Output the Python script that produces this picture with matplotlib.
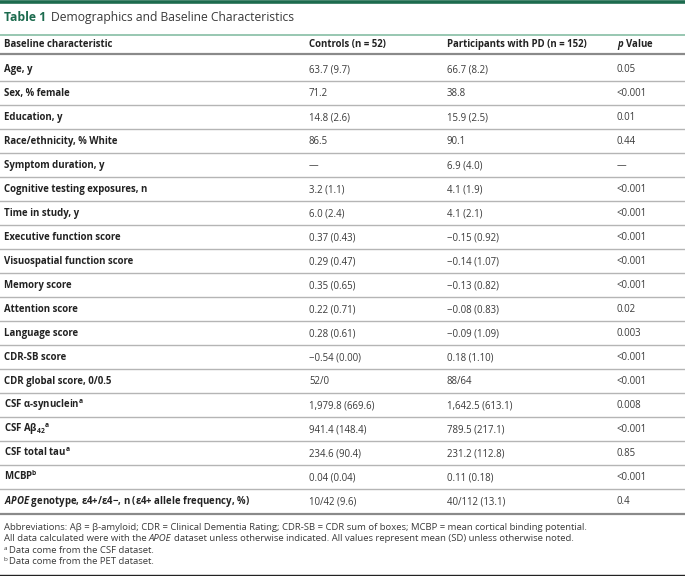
import matplotlib
matplotlib.use("Agg")
import matplotlib.pyplot as plt

plt.rcParams['font.family'] = ['Open Sans', 'DejaVu Sans']
plt.rcParams['mathtext.fontset'] = 'custom'
plt.rcParams['mathtext.default'] = 'regular'
plt.rcParams['mathtext.it'] = 'Open Sans:italic'
plt.rcParams['mathtext.bfit'] = 'Open Sans:italic:bold'

title_num = "Table 1"
title_text = "Demographics and Baseline Characteristics"
headers = ["Baseline characteristic", "Controls (n = 52)",
           "Participants with PD (n = 152)", r"$\mathbfit{p}$ Value"]

characteristics = [
    "Age, y",
    "Sex, % female",
    "Education, y",
    "Race/ethnicity, % White",
    "Symptom duration, y",
    "Cognitive testing exposures, n",
    "Time in study, y",
    "Executive function score",
    "Visuospatial function score",
    "Memory score",
    "Attention score",
    "Language score",
    "CDR-SB score",
    "CDR global score, 0/0.5",
    r"CSF α-synuclein$^{a}$",
    r"CSF Aβ$_{42}$$^{a}$",
    r"CSF total tau$^{a}$",
    r"MCBP$^{b}$",
    r"$\mathbfit{APOE}$ genotype, ε4+/ε4−, n (ε4+ allele frequency, %)",
]
controls = ["63.7 (9.7)", "71.2", "14.8 (2.6)", "86.5", "—", "3.2 (1.1)",
            "6.0 (2.4)", "0.37 (0.43)", "0.29 (0.47)", "0.35 (0.65)",
            "0.22 (0.71)", "0.28 (0.61)", "−0.54 (0.00)", "52/0",
            "1,979.8 (669.6)", "941.4 (148.4)", "234.6 (90.4)", "0.04 (0.04)",
            "10/42 (9.6)"]
parkinson = ["66.7 (8.2)", "38.8", "15.9 (2.5)", "90.1", "6.9 (4.0)",
             "4.1 (1.9)", "4.1 (2.1)", "−0.15 (0.92)", "−0.14 (1.07)",
             "−0.13 (0.82)", "−0.08 (0.83)", "−0.09 (1.09)", "0.18 (1.10)",
             "88/64", "1,642.5 (613.1)", "789.5 (217.1)", "231.2 (112.8)",
             "0.11 (0.18)", "40/112 (13.1)"]
p_values = ["0.05", "<0.001", "0.01", "0.44", "—", "<0.001", "<0.001",
            "<0.001", "<0.001", "<0.001", "0.02", "0.003", "<0.001",
            "<0.001", "0.008", "<0.001", "0.85", "<0.001", "0.4"]
# footnotes as (text, style) pieces, "sup" = superscript marker
notes = [
    [("Abbreviations: Aβ = β-amyloid; CDR = Clinical Dementia Rating; CDR-SB = CDR sum of boxes; MCBP = mean cortical binding potential.", "normal")],
    [("All data calculated were with the", "normal"), ("APOE", "italic"),
     ("dataset unless otherwise indicated. All values represent mean (SD) unless otherwise noted.", "normal")],
    [("a", "sup"), ("Data come from the CSF dataset.", "normal")],
    [("b", "sup"), ("Data come from the PET dataset.", "normal")],
]

green = "#1c6b4e"
text_col = "#3a3a3a"
fs = 6.9
fs_note = 6.8

fig = plt.figure(figsize=(6.85, 5.76), dpi=100)
ax = fig.add_axes([0, 0, 1, 1])
ax.set_xlim(0, 685)
ax.set_ylim(576, 0)
ax.axis("off")
renderer = fig.canvas.get_renderer()

col_x = [4, 309, 447, 617]
base = 3.3  # baseline offset from row centre

# top bar and title
ax.axhline(1.5, color=green, lw=2.6)
t = ax.text(4, 21, title_num, color=green, fontsize=8.75, fontweight="bold", va="baseline")
bb = t.get_window_extent(renderer)
ax.text(bb.x1 + 5, 21, title_text, color="#3a3a3a", fontsize=8.75, va="baseline")
ax.axhline(35, color="#86bda4", lw=1.2)

# header
for x, h in zip(col_x, headers):
    ax.text(x, 44 + base, h, fontsize=fs, fontweight="bold", color="#222222", va="baseline")
ax.axhline(53.5, color="#8a8a8a", lw=1.6)

row_h = 24
y0 = 69
for i, (lab, c, p, pv) in enumerate(zip(characteristics, controls, parkinson, p_values)):
    y = y0 + i * row_h + base
    ax.text(col_x[0], y, lab, fontsize=fs, fontweight="bold", color="#222222", va="baseline")
    ax.text(col_x[1], y, c, fontsize=fs, color=text_col, va="baseline")
    ax.text(col_x[2], y, p, fontsize=fs, color=text_col, va="baseline")
    ax.text(col_x[3], y, pv, fontsize=fs, color=text_col, va="baseline")
    if i < len(characteristics) - 1:
        ax.axhline(y0 + i * row_h + 12, color="#b5b5b5", lw=1.0)
ax.axhline(y0 + (len(characteristics) - 1) * row_h + 12.5, color="#8a8a8a", lw=1.6)

# footnotes, drawn piece by piece
note_y = [526.5, 538, 549.5, 561]
for ny, pieces in zip(note_y, notes):
    x = 4
    for txt, style in pieces:
        if style == "sup":
            tt = ax.text(x, ny + base - 3, txt, fontsize=4.6, color=text_col, va="baseline")
            gap = 1.5
        else:
            tt = ax.text(x, ny + base, txt, fontsize=fs_note, color=text_col,
                         style="italic" if style == "italic" else "normal", va="baseline")
            gap = 2.4
        x = tt.get_window_extent(renderer).x1 + gap
ax.axhline(575, color="#222222", lw=1.0)

fig.savefig("out.png", dpi=100)
